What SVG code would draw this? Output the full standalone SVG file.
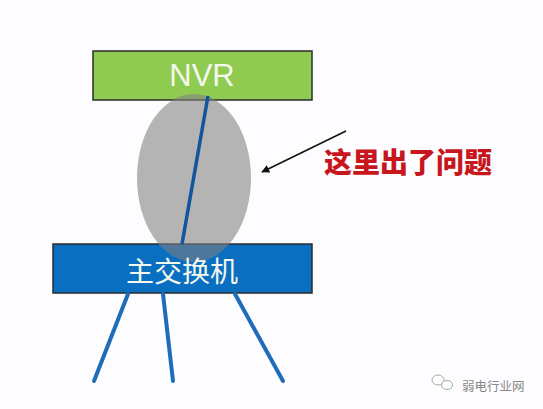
<svg xmlns="http://www.w3.org/2000/svg" width="543" height="409" viewBox="0 0 543 409">
<style>
.box{stroke:#2b2b2b;stroke-width:1.5}
.lbl{font-family:"Liberation Sans","Noto Sans CJK SC",sans-serif;fill:#f4f8ee;text-anchor:middle}
.wire{stroke:#1f6db8;stroke-width:4;stroke-linecap:round;fill:none}
</style>
<defs>
<marker id="ah" viewBox="0 0 10 10" refX="9" refY="5" markerWidth="10" markerHeight="8" orient="auto" markerUnits="userSpaceOnUse">
<path d="M0,0 L10,5 L0,10 z" fill="#111"/>
</marker>
</defs>
<rect width="543" height="409" fill="#fdfcfe"/>
<g id="nvr">
<rect class="box" x="93" y="51" width="219" height="49" fill="#8fcb50"/>
</g>
<g id="switch">
<rect class="box" x="53" y="244" width="259" height="49" fill="#0a6fc1"/>
</g>
<g id="fault">
<ellipse cx="194" cy="178" rx="57" ry="84" fill="#7f7f7f" fill-opacity="0.58"/>
</g>
<g id="labels">
<text class="lbl" x="202" y="86" font-size="31">NVR</text>
<text class="lbl" x="182" y="282" font-size="28">主交换机</text>
</g>
<g id="connectors">
<line x1="208" y1="96" x2="182" y2="244" stroke="#12549e" stroke-width="3.5"/>
<line class="wire" x1="128" y1="294" x2="94" y2="381"/>
<line class="wire" x1="163" y1="294" x2="173" y2="381"/>
<line class="wire" x1="235" y1="294" x2="283" y2="381"/>
<line x1="346" y1="131" x2="262" y2="172" stroke="#111" stroke-width="1.5" marker-end="url(#ah)"/>
</g>
<g id="note">
<text x="324" y="173" font-family="'Noto Sans CJK SC',sans-serif" font-weight="900" font-size="28" fill="#c8161d">这里出了问题</text>
</g>
<g id="watermark">
<ellipse cx="438" cy="380" rx="6" ry="5" fill="none" stroke="#aaa" stroke-width="1"/>
<ellipse cx="447" cy="385" rx="5.5" ry="4.5" fill="#fff" stroke="#aaa" stroke-width="1"/>
<text x="462" y="391" font-family="'Noto Sans CJK SC',sans-serif" font-size="12.5" fill="#888">弱电行业网</text>
</g>
</svg>
